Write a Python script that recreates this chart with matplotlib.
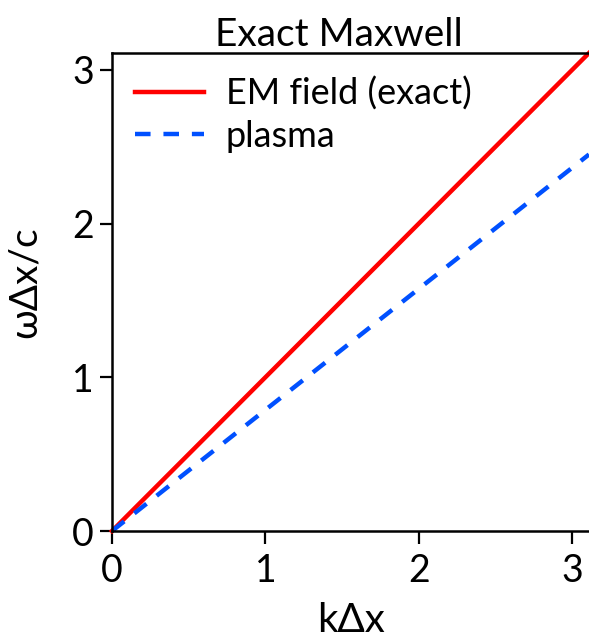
import matplotlib
matplotlib.use("Agg")
import matplotlib.pyplot as plt

# data
k_em = [0.0, 3.11]
w_em = [0.0, 3.11]
k_plasma = [0.0, 3.11]
w_plasma = [0.0, 2.45]
ticks = [0, 1, 2, 3]

plt.rcParams['font.family'] = ['Lato', 'DejaVu Sans']

fig = plt.figure(figsize=(5.89, 6.41), dpi=100)
ax = fig.add_axes([112/589, 1 - 531/641, 1 - 112/589, (531 - 53)/641])

ax.plot(k_em, w_em, color='#ff0000', lw=3.2, label='EM field (exact)', clip_on=False)
ax.plot(k_plasma, w_plasma, color='#0050ff', lw=3.2, ls=(0, (3.5, 2.9)), label='plasma')

ax.set_xlim(0, 3.11)
ax.set_ylim(0, 3.11)
ax.set_xticks(ticks)
ax.set_yticks(ticks)
ax.tick_params(labelsize=27, length=9, width=1.6, direction='out', pad=4)
ax.tick_params(axis='x', pad=7)
for s in ['left', 'bottom', 'top']:
    ax.spines[s].set_linewidth(1.8)
ax.spines['right'].set_visible(False)

ax.set_title('Exact Maxwell', fontsize=28, pad=4, x=0.475)
ax.set_xlabel('kΔx', fontsize=29, labelpad=9)
ax.set_ylabel('ωΔx/c', fontsize=28)
ax.yaxis.set_label_coords(-0.145, 0.52)

ax.legend(loc='upper left', fontsize=26, frameon=False, handlelength=1.9,
          handletextpad=0.6, borderaxespad=0.25, labelspacing=0.25)

fig.savefig('out.png', dpi=100)
